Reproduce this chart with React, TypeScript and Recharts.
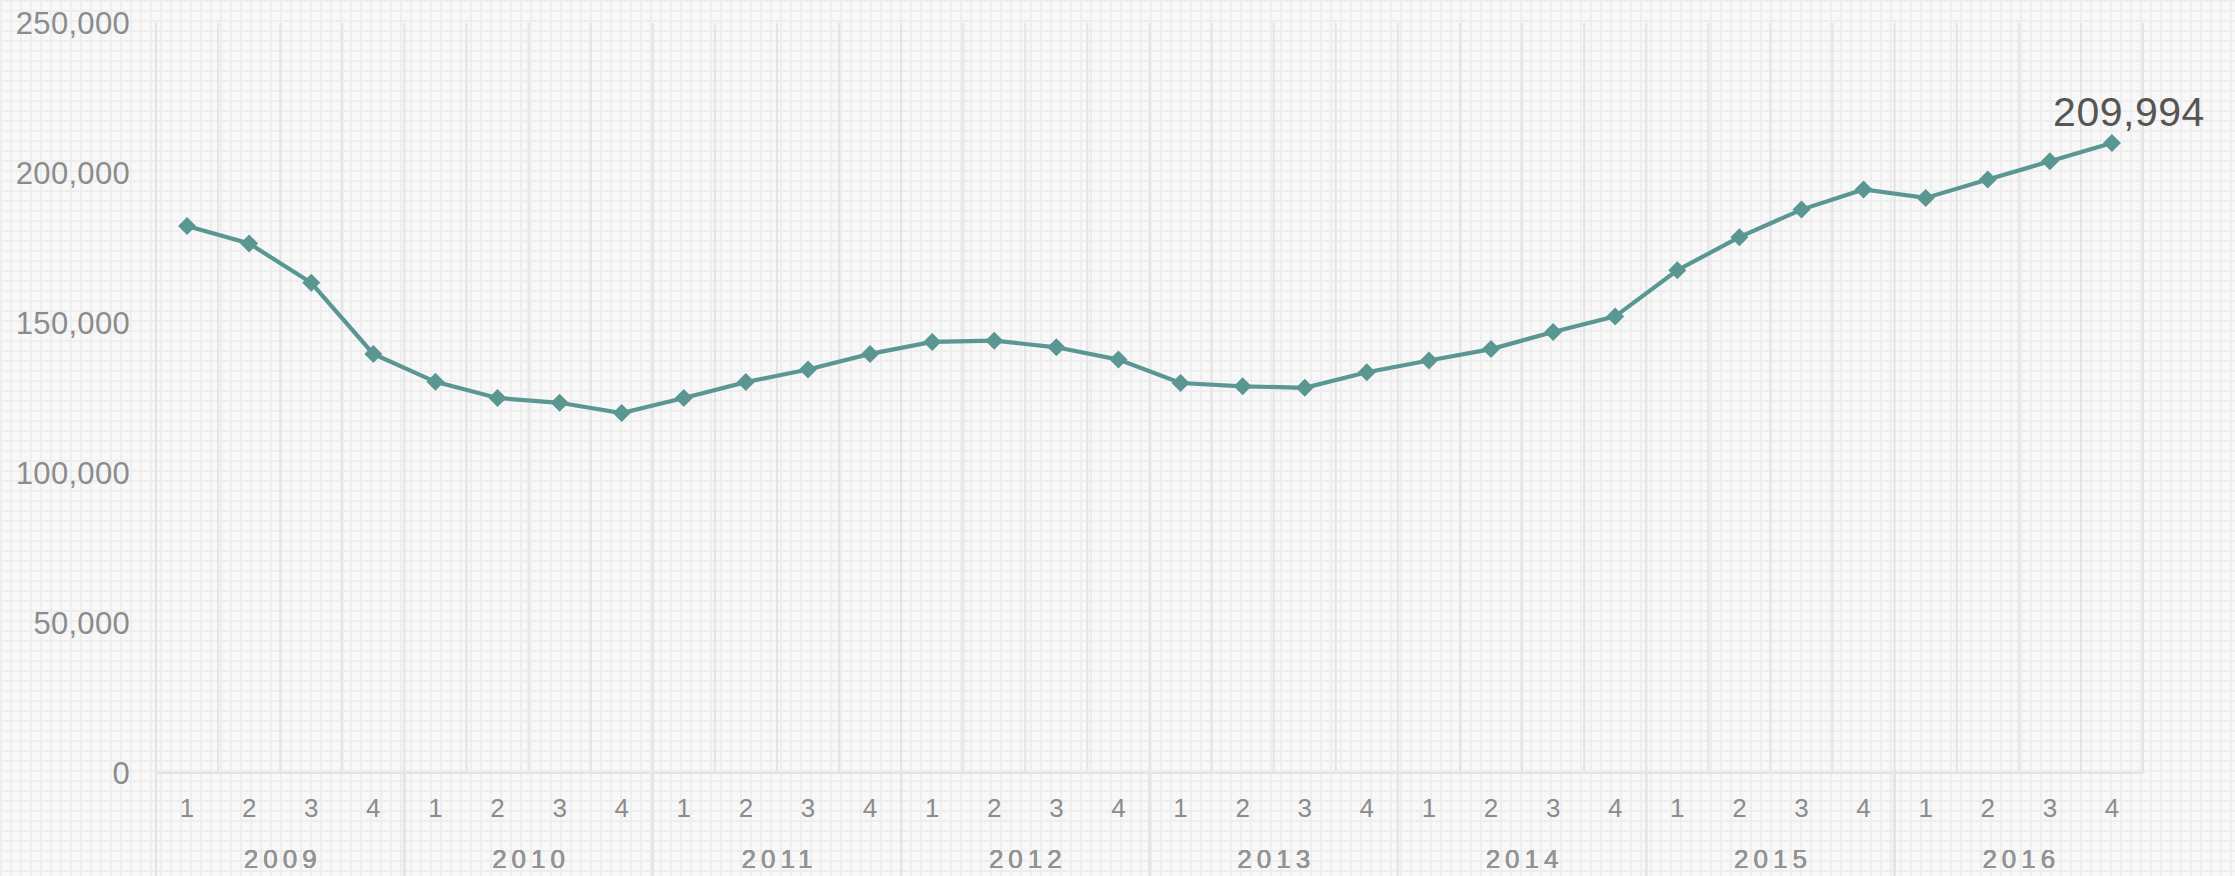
import React from 'react';
import { ComposedChart, Line, XAxis, YAxis, CartesianGrid, LabelList } from 'recharts';

const years = ['2009', '2010', '2011', '2012', '2013', '2014', '2015', '2016'];
const quarters = ['1', '2', '3', '4'];
const values = [
  182300, 176500, 163400, 139700,
  130400, 125000, 123400, 120000,
  125000, 130300, 134500, 139700,
  143700, 144100, 141900, 137800,
  130000, 128900, 128400, 133600,
  137500, 141300, 147000, 152200,
  167600, 178600, 187800, 194500,
  191700, 197800, 203900, 209994,
];
const yTicks = [0, 50000, 100000, 150000, 200000, 250000];

const data = values.map((v, i) => ({
  key: `${years[Math.floor(i / quarters.length)]}-${quarters[i % quarters.length]}`,
  quarter: quarters[i % quarters.length],
  year: years[Math.floor(i / quarters.length)],
  pos: i + 0.5,
  value: v,
}));
const gridTicks = Array.from({ length: values.length + 1 }, (_, i) => i);

const W = 2235;
const H = 876;
const MARGIN = { top: 23, right: 92, bottom: 0, left: 0 };
const Y_W = 156;
const QH = 52;
const YH = 51;
const PLOT_BOTTOM = H - QH - YH;
const PLOT_W = W - Y_W - MARGIN.right;
const FONT = "'Liberation Sans', Arial, Helvetica, sans-serif";
const LABEL = '#8c8c8c';
const GRID = '#e4e4e4';
const LINE = '#5b9792';

const fmt = (v: number) => v.toLocaleString('en-US');

const YTick = (props: any) => {
  const { x, y, payload } = props;
  return (
    <text x={x - 26} y={y} dy="0.355em" textAnchor="end" fontFamily={FONT} fontSize={31} fill={LABEL} letterSpacing={0.3}>
      {fmt(payload.value)}
    </text>
  );
};

const QTick = (props: any) => {
  const { x, y, payload } = props;
  const q = String(payload.value).split('-')[1];
  return (
    <text x={x} y={y + 35} dy="0.355em" textAnchor="middle" fontFamily={FONT} fontSize={26} fill={LABEL}>
      {q}
    </text>
  );
};

const YearTick = (props: any) => {
  const { x, y, payload, index } = props;
  const half = PLOT_W / years.length / 2;
  const isLast = index === years.length - 1;
  return (
    <g>
      <line x1={x - half} x2={x - half} y1={PLOT_BOTTOM} y2={H} stroke={GRID} strokeWidth={2} />
      {isLast && <line x1={x + half} x2={x + half} y1={PLOT_BOTTOM} y2={H} stroke={GRID} strokeWidth={2} />}
      <text x={x + 2.5} y={y + 34} dy="0.355em" textAnchor="middle" fontFamily={FONT} fontSize={26} fill="#939393" letterSpacing={5}>
        {payload.value}
      </text>
    </g>
  );
};

const Diamond = (props: any) => {
  const { cx, cy, index } = props;
  if (cx == null || cy == null) return <g key={`d-${index}`} />;
  const r = 9;
  return (
    <polygon
      key={`d-${index}`}
      points={`${cx},${cy - r} ${cx + r},${cy} ${cx},${cy + r} ${cx - r},${cy}`}
      fill={LINE}
      stroke="none"
    />
  );
};

const EndLabel = (props: any) => {
  const { x, y, value, index } = props;
  const last = values.length - 1;
  if (index !== last && !(index == null && value === values[last])) return null;
  return (
    <text x={x + 17} y={y - 17} textAnchor="middle" fontFamily={FONT} fontSize={41} fill="#555555" letterSpacing={0.5}>
      {fmt(value)}
    </text>
  );
};

export default function App() {
  return (
    <div
      style={{
        position: 'absolute',
        left: 0,
        top: 0,
        width: W,
        height: H,
        backgroundColor: '#f8f8f8',
        backgroundImage:
          'linear-gradient(to right, #eeeeee 2px, transparent 2px), linear-gradient(to bottom, #eeeeee 2px, transparent 2px)',
        backgroundSize: '10px 10px',
        overflow: 'hidden',
      }}
    >
      <ComposedChart width={W} height={H} data={data} margin={MARGIN}>
        <XAxis
          xAxisId="g"
          type="number"
          dataKey="pos"
          domain={[0, values.length]}
          ticks={gridTicks}
          interval={0}
          allowDataOverflow
          height={0}
          hide
        />
        <CartesianGrid xAxisId="g" vertical horizontal={false} stroke={GRID} strokeWidth={2} />
        <XAxis
          xAxisId="q"
          dataKey="key"
          scale="band"
          interval={0}
          height={QH}
          tickLine={false}
          tickSize={0}
          tickMargin={0}
          axisLine={{ stroke: GRID, strokeWidth: 2 }}
          tick={QTick}
        />
        <XAxis
          xAxisId="y"
          dataKey="year"
          scale="band"
          allowDuplicatedCategory={false}
          interval={0}
          height={YH}
          tickLine={false}
          tickSize={0}
          tickMargin={0}
          axisLine={false}
          tick={YearTick}
        />
        <YAxis
          width={Y_W}
          domain={[0, 250000]}
          ticks={yTicks}
          interval={0}
          tickLine={false}
          tickSize={0}
          tickMargin={0}
          axisLine={false}
          tick={YTick}
        />
        <Line
          xAxisId="q"
          dataKey="value"
          stroke={LINE}
          strokeWidth={4.2}
          dot={Diamond}
          activeDot={false}
          isAnimationActive={false}
        >
          <LabelList dataKey="value" content={EndLabel} />
        </Line>
      </ComposedChart>
    </div>
  );
}
